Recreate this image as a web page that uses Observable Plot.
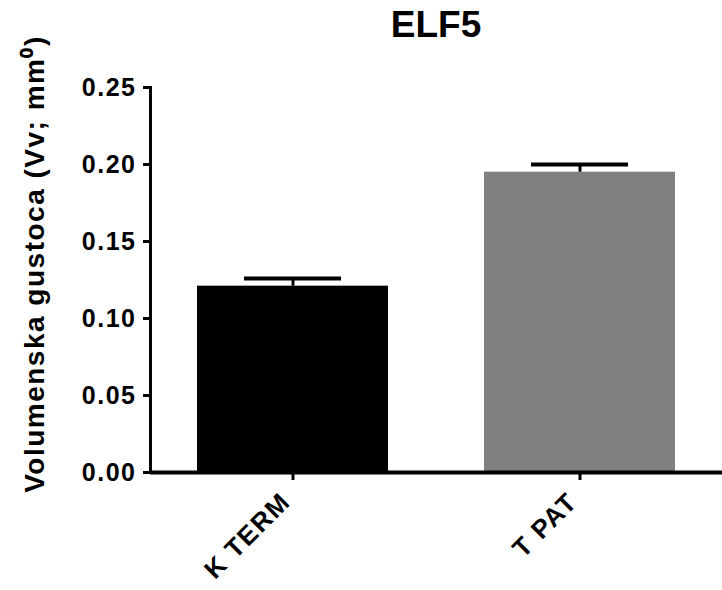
<!DOCTYPE html>
<html>
<head>
<meta charset="utf-8">
<script src="https://cdn.jsdelivr.net/npm/d3@7"></script>
<script src="https://cdn.jsdelivr.net/npm/@observablehq/plot@0.6"></script>
<style>
  html, body { margin: 0; padding: 0; background: #fff; }
  #wrap { width: 722px; height: 590px; position: relative; overflow: hidden; }
  #title { position: absolute; left: 150px; top: 4px; width: 572px; z-index: 2;
           text-align: center; font: bold 37px "Liberation Sans", Arial, sans-serif; line-height: 1.149; color: #000; }
  #chart { position: absolute; left: 0; top: 0; }
</style>
</head>
<body>
<div id="wrap">
  <div id="title"></div>
  <div id="chart"></div>
</div>
<script>
const title = "ELF5";
const categories = ["K TERM", "T PAT"];
const means = [0.121, 0.195];
const errors = [0.005, 0.005];
const barColors = ["#000000", "#808080"];
const yTicks = [0, 0.05, 0.10, 0.15, 0.20, 0.25];
const yLabel = "Volumenska gustoca (Vv; mm\u2070)";

const data = categories.map((c, i) => ({cat: c, mean: means[i], err: errors[i], color: barColors[i]}));

document.getElementById("title").textContent = title;

const chart = Plot.plot({
  width: 722,
  height: 590,
  marginTop: 87,
  marginBottom: 118,
  marginLeft: 150,
  marginRight: 0,
  style: "font-family: 'Liberation Sans', Arial, sans-serif; font-weight: bold; font-size: 25px; letter-spacing: 1.5px; color: #000; background: transparent; overflow: visible;",
  x: {domain: categories, paddingInner: 0.336, paddingOuter: 0.163, align: 0.5},
  y: {domain: [0, 0.25]},
  color: {type: "identity"},
  marks: [
    Plot.barY(data, {x: "cat", y: "mean", fill: "color"}),
    Plot.ruleX(data, {x: "cat", y1: "mean", y2: d => d.mean + d.err, stroke: "#000", strokeWidth: 3}),
    Plot.tickY(data, {x: "cat", y: d => d.mean + d.err, stroke: "#000", strokeWidth: 4, insetLeft: 47, insetRight: 47}),
    Plot.ruleY([0], {stroke: "#000", strokeWidth: 4}),
    Plot.frame({anchor: "left", stroke: "#000", strokeWidth: 3}),
    Plot.axisY({ticks: yTicks, tickFormat: d3.format(".2f"), tickSize: 7, tickPadding: 7, strokeWidth: 3, label: null}),
    Plot.axisX({tickSize: 8, strokeWidth: 3, tickFormat: () => "", label: null}),
    Plot.axisX({tickRotate: -45, tickSize: 0, tickPadding: 25, dx: -7, label: null, fontSize: 26}),
    Plot.text([yLabel], {text: d => d, frameAnchor: "left", textAnchor: "middle", rotate: -90, dx: -115, dy: -16, fontSize: 28, fill: "#000"})
  ]
});
document.getElementById("chart").appendChild(chart);
</script>
</body>
</html>
